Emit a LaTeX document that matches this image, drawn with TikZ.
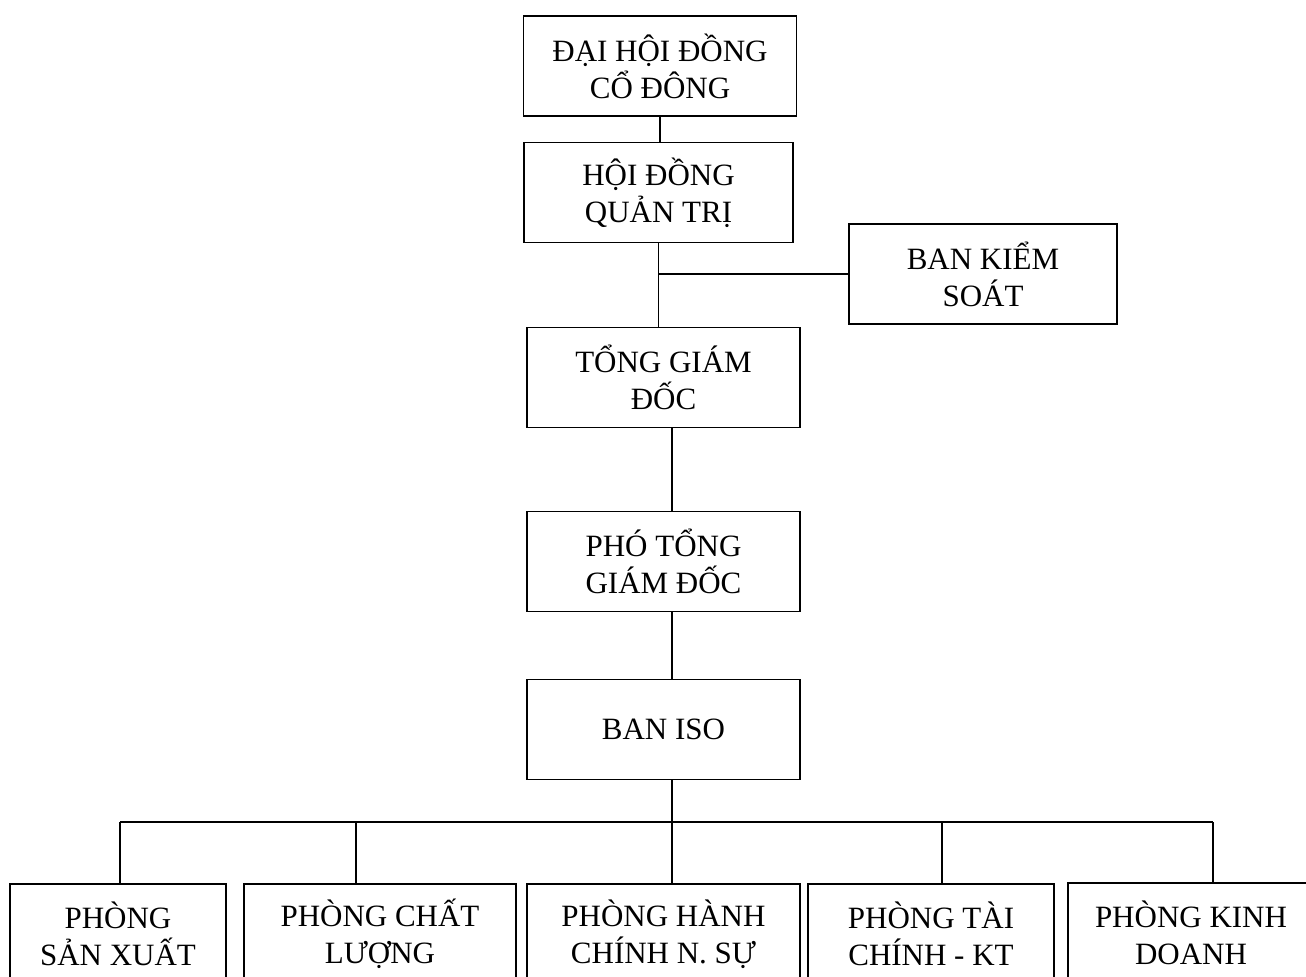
\documentclass[tikz,border=0pt]{standalone}
\usepackage{fontspec}
\setmainfont{Liberation Serif}
\usetikzlibrary{arrows, arrows.meta}
\usetikzlibrary{shapes}
\tikzset{unitbox/.style={draw, align=center, minimum width=136.5pt, minimum height=50pt, inner sep=2pt, font=\fontsize{15.5}{18.5}\selectfont}}
\tikzset{smallbox/.style={unitbox, minimum width=123pt}}

\begin{document}
\begin{tikzpicture}[x=0.5pt,y=-0.5pt,line width=0.8pt]
\useasboundingbox (0,0) rectangle (1306,977);
\clip (0,0) rectangle (1306,977);
% top of the chart
\node[unitbox] (dhcd) at (660,66) {ĐẠI HỘI ĐỒNG\\CỔ ĐÔNG};
\node[unitbox, minimum width=134.5pt] (hdqt) at (658.5,192.5) {HỘI ĐỒNG\\QUẢN TRỊ};
\node[unitbox, minimum width=134pt] (bks) at (983,274) {BAN KIỂM\\SOÁT};
\node[unitbox] (tgd) at (663.5,377.5) {TỔNG GIÁM\\ĐỐC};
\node[unitbox] (ptgd) at (663.5,561.5) {PHÓ TỔNG\\GIÁM ĐỐC};
\node[unitbox] (iso) at (663.5,729.5) {BAN ISO};
% departments
\node[unitbox, minimum width=108pt] (psx) at (118,934) {PHÒNG\\SẢN XUẤT};
\node[unitbox, minimum width=136pt] (pcl) at (380,934) {PHÒNG CHẤT\\LƯỢNG};
\node[unitbox] (phc) at (663.5,934) {PHÒNG HÀNH\\CHÍNH N. SỰ};
\node[smallbox] (ptc) at (931,934) {PHÒNG TÀI\\CHÍNH - KT};
\node[smallbox] (pkd) at (1191,933) {PHÒNG KINH\\DOANH};

\draw (dhcd.south) -- (dhcd.south |- hdqt.north);
\draw (hdqt.south) -- (hdqt.south |- tgd.north);
\draw (bks.west) -- (bks.west -| hdqt.south);
\coordinate (spine) at (672,822);
\draw (tgd.south -| spine) -- (ptgd.north -| spine);
\draw (ptgd.south -| spine) -- (iso.north -| spine);
\draw (iso.south -| spine) -- (spine);
\draw (120,822) -- (1213,822);
\foreach \n/\x in {psx/120,pcl/356,phc/672,ptc/942,pkd/1213}
\draw (\x,822) -- (\n.north -| \x,822);
\end{tikzpicture}
\end{document}
